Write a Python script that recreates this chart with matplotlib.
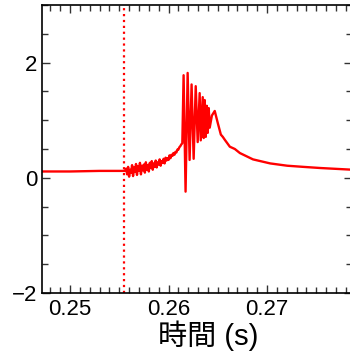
import matplotlib
matplotlib.use('Agg')
from matplotlib import pyplot as plt
from matplotlib.ticker import MultipleLocator

# time (s) and signal
t_base = [0.2470, 0.2500, 0.2530, 0.2550, 0.2555]
v_base = [0.11, 0.11, 0.12, 0.12, 0.12]

t_noise = [0.2556, 0.2557, 0.2558, 0.2559, 0.2560, 0.2561, 0.2562, 0.2563,
           0.2564, 0.2565, 0.2566, 0.2567, 0.2568, 0.2569, 0.2570, 0.2571,
           0.2572, 0.2573, 0.2574, 0.2575, 0.2576, 0.2577, 0.2578, 0.2579,
           0.2580, 0.2581, 0.2582, 0.2583, 0.2584, 0.2585, 0.2586, 0.2587,
           0.2588, 0.2589, 0.2590, 0.2591, 0.2592, 0.2593, 0.2594, 0.2595,
           0.2596, 0.2597, 0.2598, 0.2599, 0.2600, 0.2601, 0.2602, 0.2603,
           0.2604, 0.2605, 0.2606, 0.2607, 0.2608, 0.2609, 0.2610, 0.2611,
           0.2612, 0.2613, 0.2614]
v_noise = [0.12, 0.16, 0.06, 0.19, 0.02, 0.14, 0.09, 0.22, 0.03, 0.18,
           0.10, 0.24, 0.05, 0.20, 0.12, 0.26, 0.06, 0.21, 0.13, 0.23,
           0.09, 0.27, 0.14, 0.22, 0.11, 0.26, 0.17, 0.29, 0.14, 0.25,
           0.19, 0.30, 0.18, 0.27, 0.23, 0.32, 0.21, 0.29, 0.26, 0.33,
           0.25, 0.35, 0.30, 0.34, 0.31, 0.39, 0.34, 0.40, 0.38, 0.43,
           0.40, 0.45, 0.44, 0.49, 0.49, 0.53, 0.55, 0.58, 0.60]

t_burst = [0.26153, 0.26173, 0.26194, 0.26214, 0.26234, 0.26255, 0.26276,
           0.26296, 0.26316, 0.26327, 0.26347, 0.26357, 0.26367, 0.26378,
           0.26388, 0.26398, 0.26408, 0.26418, 0.26440, 0.26469, 0.26500,
           0.26531, 0.26551, 0.26571]
v_burst = [1.78, -0.24, 1.82, 0.31, 1.62, 0.33, 1.59, 0.62, 1.47, 0.65,
           1.40, 0.69, 1.35, 0.71, 1.25, 0.78, 1.21, 0.87, 1.08, 1.16,
           0.95, 0.75, 0.71, 0.66]

t_decay = [0.26622, 0.26673, 0.26724, 0.26857, 0.27031, 0.27204, 0.27367,
           0.27541, 0.27870]
v_decay = [0.54, 0.50, 0.43, 0.32, 0.25, 0.21, 0.19, 0.17, 0.14]

t_mark = 0.2555

t = t_base + t_noise + t_burst + t_decay
v = v_base + v_noise + v_burst + v_decay

fig = plt.figure(figsize=(3.5, 3.51), dpi=100)
ax = fig.add_axes([0.12, 0.165, 0.886, 0.821])

ax.plot(t, v, c='#ff0000', lw=1.7)
ax.axvline(t_mark, c='#ff0000', ls=':', lw=1.6)

ax.set_xlim(0.24716, 0.27863)
ax.set_ylim(-2, 3)
ax.xaxis.set_minor_locator(MultipleLocator(0.001))
ax.yaxis.set_minor_locator(MultipleLocator(0.5))
ax.set_xticks([0.25, 0.26, 0.27])
ax.set_xticklabels(['0.25', '0.26', '0.27'])
ax.set_yticks([-2, 0, 2])
ax.set_yticklabels(['\u22122', '0', '2'])

ax.tick_params(which='both', direction='in', top=True, right=True,
               labelsize=16, color='#333333', width=1)
ax.tick_params(which='major', length=6)
ax.tick_params(which='minor', length=4)
ax.tick_params(axis='x', pad=4)
for lab in ax.get_xticklabels() + ax.get_yticklabels():
    lab.set_family('Liberation Sans')
for s in ax.spines.values():
    s.set_linewidth(1.2)

ax.set_xlabel('時間 (s)', fontsize=21,
              family=['Liberation Sans', 'Noto Sans CJK JP'])
ax.xaxis.set_label_coords(0.535, -0.095)

fig.savefig('out.png', dpi=100)
